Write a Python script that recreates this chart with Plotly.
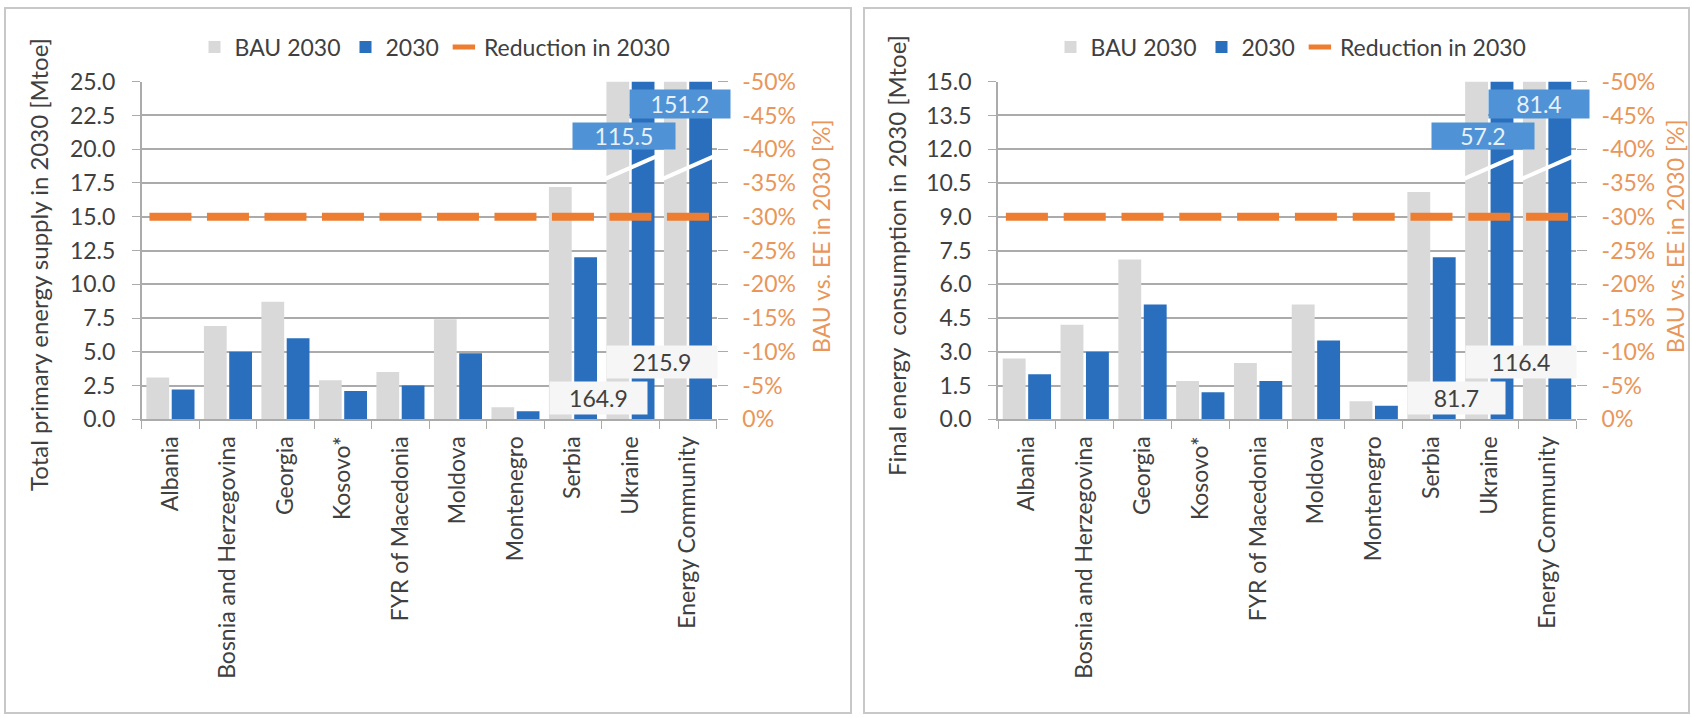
import plotly.graph_objects as go

# ---------------- data ----------------
countries = ["Albania", "Bosnia and Herzegovina", "Georgia", "Kosovo*", "FYR of Macedonia",
             "Moldova", "Montenegro", "Serbia", "Ukraine", "Energy Community"]

tpes_bau_2030 = [3.1, 6.9, 8.7, 2.9, 3.5, 7.4, 0.9, 17.2, 164.9, 215.9]
tpes_ee_2030 = [2.2, 5.0, 6.0, 2.1, 2.5, 4.9, 0.6, 12.0, 115.5, 151.2]
tpes_reduction = [-30, -30, -30, -30, -30, -30, -30, -30, -30, -30]

fec_bau_2030 = [2.7, 4.2, 7.1, 1.7, 2.5, 5.1, 0.8, 10.1, 81.7, 116.4]
fec_ee_2030 = [2.0, 3.0, 5.1, 1.2, 1.7, 3.5, 0.6, 7.2, 57.2, 81.4]
fec_reduction = [-30, -30, -30, -30, -30, -30, -30, -30, -30, -30]

left_ticks = [0.0, 2.5, 5.0, 7.5, 10.0, 12.5, 15.0, 17.5, 20.0, 22.5, 25.0]
right_ticks = [0.0, 1.5, 3.0, 4.5, 6.0, 7.5, 9.0, 10.5, 12.0, 13.5, 15.0]
pct_ticks = [0, -5, -10, -15, -20, -25, -30, -35, -40, -45, -50]
pct_labels = ["0%", "-5%", "-10%", "-15%", "-20%", "-25%", "-30%", "-35%", "-40%", "-45%", "-50%"]

# ---------------- style ----------------
W, H = 1692, 718
FONT = "Lato"
GRAY = "#d9d9d9"
BLUE = "#2a6fbd"
ORANGE = "#ed7d31"
ORANGE_TXT = "#e9965a"
TXT = "#404040"
GRID = "#ababab"
LABEL_BLUE = "#4f93d6"

PLOT_Y = (81.7, 419.3)           # pixel top / bottom of plot areas
LEFT_X = (141.7, 716.7)
RIGHT_X = (998.0, 1576.0)


def fx(p):
    return p / W


def fy(p):
    return 1 - p / H


ydom = [fy(PLOT_Y[1]), fy(PLOT_Y[0])]
xrange_cat = [-0.5, len(countries) - 0.5]

fig = go.Figure()

panels = [
    dict(bau=tpes_bau_2030, ee=tpes_ee_2030, red=tpes_reduction, xa="x", ya="y", ya2="y2",
         legend="legend"),
    dict(bau=fec_bau_2030, ee=fec_ee_2030, red=fec_reduction, xa="x2", ya="y3", ya2="y4",
         legend="legend2"),
]

for p in panels:
    fig.add_trace(go.Bar(x=countries, y=p["bau"], name="BAU 2030", marker_color=GRAY,
                         marker_line_width=0,
                         xaxis=p["xa"], yaxis=p["ya"], legend=p["legend"]))
    fig.add_trace(go.Bar(x=countries, y=p["ee"], name="2030", marker_color=BLUE,
                         marker_line_width=0,
                         xaxis=p["xa"], yaxis=p["ya"], legend=p["legend"]))
    fig.add_trace(go.Scatter(x=countries, y=p["red"], name="Reduction in 2030", mode="markers",
                             marker=dict(symbol="line-ew", size=30, color=ORANGE,
                                         line=dict(width=8, color=ORANGE)),
                             xaxis=p["xa"], yaxis=p["ya2"], legend=p["legend"]))

tickfont = dict(family=FONT, size=23, color=TXT)


def xaxis_cfg(dom, anchor):
    return dict(domain=dom, anchor=anchor, type="category", range=xrange_cat,
                tickangle=-90, automargin=False,
                ticks="outside", tickson="boundaries", ticklen=8, tickcolor=GRID,
                showline=True, linecolor=GRID, linewidth=1.5, showgrid=False,
                tickfont=dict(family=FONT, size=23, color=TXT), ticklabelstandoff=6)


def yaxis_cfg(anchor, ticks, rng):
    return dict(domain=ydom, anchor=anchor, range=rng, tickvals=ticks, tickformat=".1f",
                automargin=False,
                showgrid=True, gridcolor=GRID, gridwidth=1.5, showline=True, linecolor=GRID,
                linewidth=1.5, ticks="outside", ticklen=8, tickcolor=GRID, tickfont=tickfont,
                ticklabelstandoff=12, zeroline=False)


def yaxis_pct_cfg(anchor, overlay):
    return dict(overlaying=overlay, anchor=anchor, side="right", range=[0, -50],
                automargin=False,
                tickvals=pct_ticks, ticktext=pct_labels, showgrid=False, zeroline=False,
                showline=False, ticks="outside", ticklen=10, tickcolor=GRID,
                tickfont=dict(family=FONT, size=23, color=ORANGE_TXT), ticklabelstandoff=10)


fig.update_layout(
    template="none",
    width=W, height=H, margin=dict(l=0, r=0, t=0, b=0, pad=0, autoexpand=False),
    paper_bgcolor="white", plot_bgcolor="white",
    barmode="group", bargap=0.12, bargroupgap=0.1,
    font=dict(family=FONT, color=TXT),
    xaxis=xaxis_cfg([fx(LEFT_X[0]), fx(LEFT_X[1])], "y"),
    yaxis=yaxis_cfg("x", left_ticks, [0, 25]),
    yaxis2=yaxis_pct_cfg("x", "y"),
    xaxis2=xaxis_cfg([fx(RIGHT_X[0]), fx(RIGHT_X[1])], "y3"),
    yaxis3=yaxis_cfg("x2", right_ticks, [0, 15]),
    yaxis4=yaxis_pct_cfg("x2", "y3"),
    legend=dict(orientation="h", x=fx(435), y=fy(47), xanchor="center", yanchor="middle",
                font=dict(family=FONT, size=23, color=TXT), bgcolor="rgba(0,0,0,0)",
                itemwidth=30),
    legend2=dict(orientation="h", x=fx(1291), y=fy(47), xanchor="center", yanchor="middle",
                 font=dict(family=FONT, size=23, color=TXT), bgcolor="rgba(0,0,0,0)",
                 itemwidth=30),
    showlegend=True,
)

# panel frames
shapes = [
    dict(type="rect", xref="paper", yref="paper", x0=fx(5), x1=fx(851), y0=fy(713), y1=fy(8),
         line=dict(color="#c8c8c8", width=2)),
    dict(type="rect", xref="paper", yref="paper", x0=fx(864), x1=fx(1689), y0=fy(713), y1=fy(8),
         line=dict(color="#c8c8c8", width=2)),
]

annotations = []

# axis titles
titles = [
    ("Total primary energy supply in 2030 [Mtoe]", 38, 265, TXT, 24),
    ("BAU vs. EE in 2030 [%]", 821, 237, ORANGE_TXT, 23),
    ("Final energy\u00a0 consumption in 2030 [Mtoe]", 897, 256, TXT, 24),
    ("BAU vs. EE in 2030 [%]", 1675, 237, ORANGE_TXT, 23),
]
for text, xp, yp, col, fs in titles:
    annotations.append(dict(text=text, x=fx(xp), y=fy(yp), xref="paper", yref="paper",
                            textangle=-90, showarrow=False, xanchor="center", yanchor="middle",
                            font=dict(family=FONT, size=fs, color=col)))

# broken-bar value labels and break marks for the two off-scale categories
# (category index offset, fraction of axis height, box width, box height, style)
label_place = {
    ("Ukraine", "bau"): (-0.56, 0.063, 97, 32, "white"),
    ("Energy Community", "bau"): (-0.45, 0.17, 110, 32, "white"),
    ("Ukraine", "ee"): (-0.11, 0.84, 102, 26, "blue"),
    ("Energy Community", "ee"): (-0.14, 0.935, 100, 28, "blue"),
}
break_frac = (0.712, 0.778)

for p in panels:
    for (cat, series), (dx, fyv, bw, bh, style) in label_place.items():
        idx = countries.index(cat)
        val = p[series][idx]
        if style == "white":
            bg, fc = "#f6f6f6", TXT
        else:
            bg, fc = LABEL_BLUE, "#e8f0fa"
        annotations.append(dict(text=f"{val:.1f}", x=idx + dx, y=fyv, xref=p["xa"],
                                yref=p["ya"] + " domain", showarrow=False, xanchor="center",
                                yanchor="middle", width=bw, height=bh, bgcolor=bg, borderpad=0,
                                font=dict(family=FONT, size=23, color=fc)))
    for cat in ["Ukraine", "Energy Community"]:
        idx = countries.index(cat)
        shapes.append(dict(type="line", xref=p["xa"], yref=p["ya"] + " domain",
                           x0=idx - 0.44, x1=idx + 0.44, y0=break_frac[0], y1=break_frac[1],
                           line=dict(color="white", width=4), layer="above"))

fig.update_layout(shapes=shapes, annotations=annotations)

fig.write_html(
    "out.html",
    config={"displayModeBar": False},
    post_script="document.body.style.margin='0';document.body.style.overflow='hidden';",
)
